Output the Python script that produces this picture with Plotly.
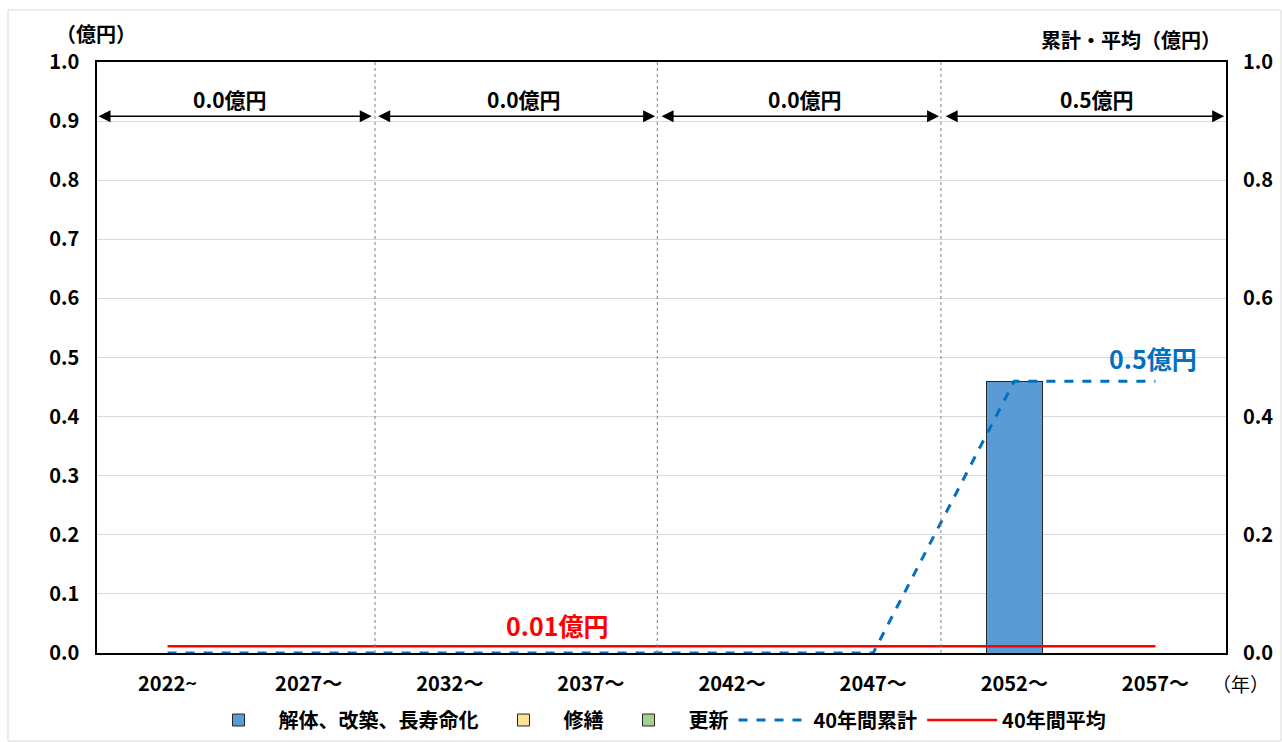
import plotly.graph_objects as go

# 期間（5年ごと）
categories = ["2022~", "2027～", "2032～", "2037～", "2042～", "2047～", "2052～", "2057～"]
x_idx = list(range(len(categories)))

# 費用（億円）
kaitai = [0, 0, 0, 0, 0, 0, 0.46, 0]      # 解体、改築、長寿命化
shuzen = [0, 0, 0, 0, 0, 0, 0, 0]         # 修繕
koushin = [0, 0, 0, 0, 0, 0, 0, 0]        # 更新
ruikei = [0, 0, 0, 0, 0, 0, 0.46, 0.46]   # 40年間累計
heikin = [0.0115] * 8                     # 40年間平均

# 10年ごとの区間合計
span_labels = ["0.0億円", "0.0億円", "0.0億円", "0.5億円"]
span_ranges = [(-0.5, 1.447), (1.482, 3.455), (3.49, 5.467), (5.503, 7.487)]
span_label_x = [0.443, 2.526, 4.518, 6.587]
divider_x = [1.47, 3.47, 5.48]

FONT = "Noto Sans CJK JP"
W, H = 1282, 742
L, R, T, B = 97, 1226, 62, 653


def px_x(p):
    return (p - L) / (R - L)


def px_y(p):
    return (B - p) / (B - T)


fig = go.Figure()

fig.add_trace(go.Bar(
    x=x_idx, y=kaitai, name="解体、改築、長寿命化", width=0.4,
    marker=dict(color="#5B9BD5", line=dict(color="#262626", width=1)),
))
fig.add_trace(go.Bar(
    x=x_idx, y=shuzen, name="修繕", width=0.4,
    marker=dict(color="#FFE699", line=dict(color="#262626", width=1),
                pattern=dict(shape=".", fgcolor="#F4B183", bgcolor="#FFE699", size=4)),
))
fig.add_trace(go.Bar(
    x=x_idx, y=koushin, name="更新", width=0.4,
    marker=dict(color="#A9D18E", line=dict(color="#262626", width=1)),
))
fig.add_trace(go.Scatter(
    x=x_idx, y=ruikei, name="40年間累計", mode="lines", yaxis="y2",
    line=dict(color="#0070C0", width=3, dash="dash"),
))
fig.add_trace(go.Scatter(
    x=x_idx, y=heikin, name="40年間平均", mode="lines", yaxis="y2",
    line=dict(color="#FF0000", width=2.5),
))

shapes = []
for dx in divider_x:
    shapes.append(dict(type="line", xref="x", yref="paper", x0=dx, x1=dx, y0=0, y1=1,
                       line=dict(color="#7F7F7F", width=1, dash="dot")))
# 外枠
shapes.append(dict(type="rect", xref="paper", yref="paper",
                   x0=px_x(8), x1=px_x(1281), y0=px_y(741), y1=px_y(10),
                   line=dict(color="#D9D9D9", width=1), layer="below"))

annotations = []
for (a, b), lab, lx in zip(span_ranges, span_labels, span_label_x):
    annotations.append(dict(
        x=b, y=0.908, ax=a, ay=0.908, xref="x", yref="y", axref="x", ayref="y",
        text="", showarrow=True, arrowhead=2, arrowside="end+start",
        arrowsize=1.6, arrowwidth=1.5, arrowcolor="#000000",
    ))
    annotations.append(dict(
        x=lx, y=0.937, xref="x", yref="y", text=lab, showarrow=False,
        xanchor="center", yanchor="middle",
        font=dict(family=FONT, size=21, color="#000000", weight="bold"),
    ))

annotations += [
    dict(x=6.984, y=0.50, xref="x", yref="y", text="0.5億円", showarrow=False,
         xanchor="center", yanchor="middle",
         font=dict(family=FONT, size=25, color="#0070C0", weight="bold")),
    dict(x=2.76, y=0.047, xref="x", yref="y", text="0.01億円", showarrow=False,
         xanchor="center", yanchor="middle",
         font=dict(family=FONT, size=25, color="#FF0000", weight="bold")),
    dict(x=px_x(96), y=px_y(33), xref="paper", yref="paper", xanchor="center", yanchor="middle",
         text="（億円）", showarrow=False, font=dict(family=FONT, size=20, color="#000000", weight="bold")),
    dict(x=px_x(1131), y=px_y(39), xref="paper", yref="paper", xanchor="center", yanchor="middle",
         text="累計・平均（億円）", showarrow=False, font=dict(family=FONT, size=20, color="#000000", weight="bold")),
    dict(x=px_x(1240), y=px_y(684), xref="paper", yref="paper", xanchor="center", yanchor="middle",
         text="（年）", showarrow=False, font=dict(family=FONT, size=19, color="#000000")),
]

tickfont = dict(family=FONT, size=20, color="#000000", weight="bold")

fig.update_layout(
    width=W, height=H,
    margin=dict(l=L, r=W - R, t=T, b=H - B, autoexpand=False),
    paper_bgcolor="#FFFFFF", plot_bgcolor="#FFFFFF",
    barmode="stack",
    showlegend=True,
    legend=dict(orientation="h", x=px_x(655), xanchor="center", y=px_y(720), yanchor="middle",
                traceorder="normal",
                font=dict(family=FONT, size=20, color="#000000", weight="bold"),
                itemwidth=70, tracegroupgap=0),
    xaxis=dict(
        tickmode="array", tickvals=x_idx, ticktext=categories, range=[-0.5, 7.5],
        showline=True, mirror=True, linecolor="#000000", linewidth=1.5,
        showgrid=False, zeroline=False, ticks="", tickfont=tickfont, ticklabelstandoff=12,
    ),
    yaxis=dict(
        range=[0, 1.0], dtick=0.1, tickformat=".1f",
        showline=True, mirror=True, linecolor="#000000", linewidth=1.5,
        showgrid=True, gridcolor="#D9D9D9", gridwidth=1, zeroline=False,
        ticks="", tickfont=tickfont, ticklabelstandoff=12,
    ),
    yaxis2=dict(
        range=[0, 1.0], dtick=0.2, tickformat=".1f", overlaying="y", side="right",
        showgrid=False, zeroline=False, showline=False,
        ticks="", tickfont=tickfont, ticklabelstandoff=16,
    ),
    shapes=shapes,
    annotations=annotations,
)

fig.write_html("out.html")
